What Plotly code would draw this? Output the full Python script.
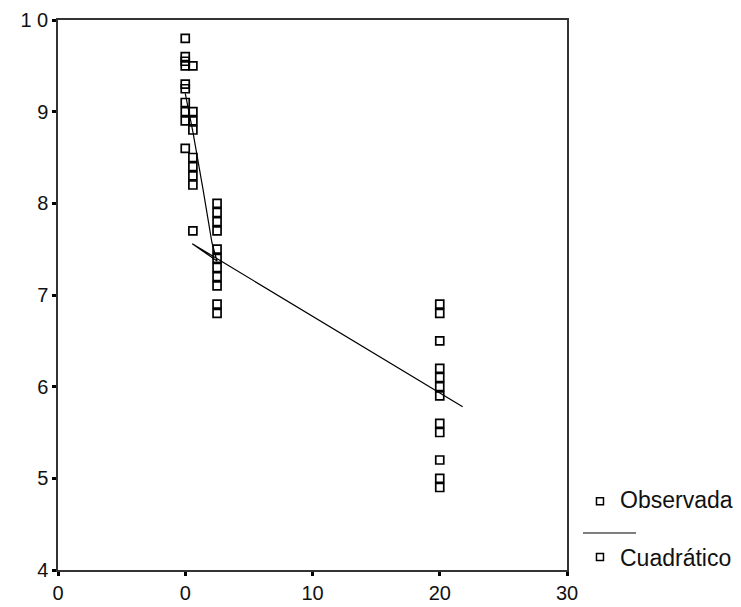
import plotly.graph_objects as go

# Observed data (x, y)
obs_x0 = [0, 0, 0, 0, 0, 0, 0, 0, 0, 0]
obs_y0 = [9.8, 9.6, 9.5, 9.3, 9.25, 9.1, 9.0, 8.9, 8.6, 9.55]
obs_x1 = [0.6, 0.6, 0.6, 0.6, 0.6, 0.6, 0.6, 0.6, 0.6]
obs_y1 = [9.5, 9.0, 8.9, 8.8, 8.5, 8.4, 8.3, 8.2, 7.7]
obs_x2 = [2.5] * 11
obs_y2 = [8.0, 7.9, 7.8, 7.7, 7.5, 7.4, 7.3, 7.2, 7.1, 6.9, 6.8]
obs_x3 = [20] * 12
obs_y3 = [6.9, 6.8, 6.5, 6.2, 6.1, 6.0, 5.9, 5.6, 5.5, 5.2, 5.0, 4.9]

# Fitted (Cuadrático) line as drawn
fit_x = [0, 0.6, 1.4, 1.8, 2.1, 2.5, 0.55, 21.8]
fit_y = [9.2, 8.78, 8.15, 7.8, 7.57, 7.37, 7.56, 5.78]

x_tickvals = [-10, 0, 10, 20, 30]
x_ticktext = ["0", "0", "10", "20", "30"]
y_tickvals = [4, 5, 6, 7, 8, 9, 10]
y_ticktext = ["4", "5", "6", "7", "8", "9", "1 0"]

obs_x = obs_x0 + obs_x1 + obs_x2 + obs_x3
obs_y = obs_y0 + obs_y1 + obs_y2 + obs_y3

fig = go.Figure()
fig.add_trace(go.Scatter(
    x=obs_x, y=obs_y, mode="markers", name="Observada",
    marker=dict(symbol="square-open", size=8, color="black", line=dict(width=1.7, color="black")),
    showlegend=False,
))
fig.add_trace(go.Scatter(
    x=fit_x, y=fit_y, mode="lines", name="Cuadrático",
    line=dict(color="black", width=1.2),
    showlegend=False,
))

font = dict(family="Liberation Sans, Arial, sans-serif", size=20, color="#111111")

fig.update_layout(
    width=741, height=607,
    margin=dict(l=50, r=182, t=12, b=45),
    paper_bgcolor="white", plot_bgcolor="white",
    font=font,
    xaxis=dict(range=[-10, 30], tickvals=x_tickvals, ticktext=x_ticktext,
               showgrid=False, zeroline=False, showline=True, mirror=True,
               linecolor="#333333", linewidth=1.5, automargin=False,
               ticks="outside", ticklen=4, tickwidth=3, tickcolor="black",
               tickfont=font),
    yaxis=dict(range=[4, 10], tickvals=y_tickvals, ticktext=y_ticktext,
               showgrid=False, zeroline=False, showline=True, mirror=True,
               linecolor="#333333", linewidth=1.5, automargin=False,
               ticks="outside", ticklen=4, tickwidth=3, tickcolor="black",
               tickfont=font),
)

# Custom legend (outside plot area, bottom right)
legfont = dict(family="Liberation Sans, Arial, sans-serif", size=23, color="#111111")
sq_x = 1.0648
for yp in [0.125, 0.0236]:
    fig.add_shape(type="rect", xref="paper", yref="paper",
                  xsizemode="pixel", ysizemode="pixel",
                  xanchor=sq_x, yanchor=yp, x0=-3.5, x1=3.5, y0=-3.5, y1=3.5,
                  line=dict(color="black", width=1.5), fillcolor="white")
fig.add_shape(type="line", xref="paper", yref="paper",
              x0=1.0314, x1=1.1356, y0=0.0673, y1=0.0673,
              line=dict(color="black", width=1))
fig.add_annotation(x=1.1, y=0.127, xref="paper", yref="paper", text="Observada",
                   showarrow=False, xanchor="left", yanchor="middle", font=legfont)
fig.add_annotation(x=1.1, y=0.022, xref="paper", yref="paper", text="Cuadrático",
                   showarrow=False, xanchor="left", yanchor="middle", font=legfont)

fig.write_html("out.html")
